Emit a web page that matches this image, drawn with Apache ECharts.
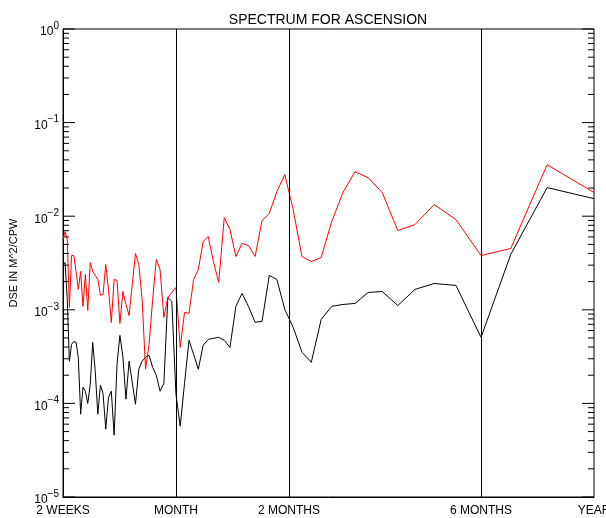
<!DOCTYPE html>
<html>
<head>
<meta charset="utf-8">
<script src="https://cdn.jsdelivr.net/npm/echarts@6/dist/echarts.min.js"></script>
<style>
  html, body { margin: 0; padding: 0; background: #fff; }
  #main { width: 606px; height: 518px; }
</style>
</head>
<body>
<div id="main"></div>
<script>
// period in weeks (x axis, log)
var periods = [2, 2.026, 2.053, 2.08, 2.108, 2.137, 2.167, 2.197, 2.229, 2.261,
    2.294, 2.328, 2.364, 2.4, 2.438, 2.476, 2.516, 2.557, 2.6, 2.644,
    2.69, 2.737, 2.786, 2.836, 2.889, 2.943, 3.0, 3.059, 3.12, 3.184,
    3.25, 3.319, 3.391, 3.467, 3.545, 3.628, 3.714, 3.805, 3.9, 4.0,
    4.105, 4.216, 4.333, 4.457, 4.588, 4.727, 4.875, 5.032, 5.2, 5.379,
    5.571, 5.778, 6.0, 6.24, 6.5, 6.783, 7.091, 7.429, 7.8, 8.211,
    8.667, 9.176, 9.75, 10.4, 11.14, 12.0, 13.0, 14.18, 15.6, 17.33,
    19.5, 22.29, 26.0, 31.2, 39.0, 52.0];

// red curve
var redDse = [0.00563, 0.00685, 0.00563, 0.00106, 0.00380, 0.00380, 0.00257, 0.00165, 0.00257, 0.00109,
    0.00238, 0.000986, 0.00320, 0.00257, 0.00233, 0.00211, 0.00143, 0.00146, 0.00305, 0.00165,
    0.000734, 0.00211, 0.00206, 0.000716, 0.00157, 0.00114, 0.000871, 0.00187, 0.00399, 0.00305,
    0.00129, 0.000232, 0.000428, 0.00129, 0.00345, 0.00270, 0.000830, 0.00135, 0.00153, 0.00173,
    0.000397, 0.000938, 0.000916, 0.00211, 0.00270, 0.00536, 0.00607, 0.00328, 0.00196, 0.00966,
    0.00720, 0.00371, 0.00511, 0.00486, 0.00371, 0.00897, 0.0107, 0.0183, 0.0278, 0.0118,
    0.00371, 0.00328, 0.00362, 0.00875, 0.0179, 0.0299, 0.0258, 0.0179, 0.00702, 0.00813,
    0.0133, 0.00920, 0.00380, 0.00452, 0.0355, 0.0179];

// black curve
var blackDse = [0.00305, 0.00320, 0.00129, 0.000282, 0.000428, 0.000460, 0.000449, 0.000311, 0.0000767, 0.000149,
    0.000135, 0.000100, 0.000160, 0.000449, 0.000220, 0.0000767, 0.000156, 0.000128, 0.0000531, 0.000116,
    0.000135, 0.0000458, 0.000262, 0.000533, 0.000311, 0.000111, 0.000282, 0.000168, 0.0000980, 0.000232,
    0.000282, 0.000311, 0.000327, 0.000243, 0.000200, 0.000135, 0.000164, 0.00135, 0.00123, 0.000125,
    0.0000571, 0.000164, 0.000472, 0.000334, 0.000232, 0.000417, 0.000483, 0.000496, 0.000508, 0.000472,
    0.000397, 0.00109, 0.00150, 0.00109, 0.000734, 0.000752, 0.00233, 0.00211, 0.00101, 0.000649,
    0.000352, 0.000275, 0.000790, 0.00109, 0.00114, 0.00117, 0.00153, 0.00157, 0.00111, 0.00165,
    0.00191, 0.00182, 0.000508, 0.00390, 0.0202, 0.0154];

var xTickPeriods = [2, 4, 8, 26, 52];
var xTickLabels = ['2 WEEKS', 'MONTH', '2 MONTHS', '6 MONTHS', 'YEAR'];
var markPeriods = [4, 8, 26];
var yDecades = [1e-5, 1e-4, 1e-3, 1e-2, 1e-1, 1];

// tick rows: [x on axis, y value, tick length]
var tickRows = [];
for (var d = 0; d < yDecades.length; d++) {
    tickRows.push([2, yDecades[d], 12]);
    if (d < yDecades.length - 1) {
        for (var m = 2; m <= 9; m++) {
            tickRows.push([2, m * yDecades[d], 6]);
        }
    }
}

function pairs(ys) {
    return periods.map(function (p, i) { return [p, ys[i]]; });
}

function xLabel(v) {
    var best = 0;
    for (var i = 1; i < xTickPeriods.length; i++) {
        if (Math.abs(Math.log(v / xTickPeriods[i])) < Math.abs(Math.log(v / xTickPeriods[best]))) best = i;
    }
    return xTickLabels[best];
}

function yLabel(v) {
    var e = Math.round(Math.log10(v));
    return '{b|10}{s|' + (e === 0 ? '0' : '\u2212' + (-e)) + '}';
}

// ticks on left and right frame
function renderTick(params, api) {
    var v = api.value(1);
    var len = api.value(2);
    var l = api.coord([xTickPeriods[0], v]);
    var r = api.coord([xTickPeriods[xTickPeriods.length - 1], v]);
    var st = { stroke: '#000', lineWidth: 1 };
    return {
        type: 'group',
        children: [
            { type: 'line', shape: { x1: l[0], y1: l[1], x2: l[0] + len, y2: l[1] }, style: st },
            { type: 'line', shape: { x1: r[0] - len, y1: r[1], x2: r[0], y2: r[1] }, style: st }
        ]
    };
}

var FONT = 'Liberation Sans';

var myChart = echarts.init(document.getElementById('main'), null, { renderer: 'canvas' });

var option = {
    animation: false,
    backgroundColor: '#fff',
    title: {
        text: 'SPECTRUM FOR ASCENSION',
        left: 323,
        top: 8,
        textAlign: 'center',
        textStyle: { fontFamily: FONT, fontSize: 14, fontWeight: 'normal', color: '#000' }
    },
    grid: {
        left: 63, right: 12, top: 29, bottom: 21,
        show: true, borderColor: '#000', borderWidth: 1,
        containLabel: false,
        outerBoundsMode: 'none'
    },
    xAxis: {
        type: 'log',
        logBase: 10,
        min: 2,
        max: 52,
        axisLine: { show: true, lineStyle: { color: '#000', width: 1 } },
        axisTick: { show: false },
        axisLabel: {
            customValues: xTickPeriods,
            formatter: xLabel,
            margin: 8,
            color: '#000',
            fontFamily: FONT,
            fontSize: 12
        },
        splitLine: { show: false }
    },
    yAxis: {
        type: 'log',
        logBase: 10,
        min: 1e-5,
        max: 1,
        name: 'DSE IN M^2/CPW',
        nameLocation: 'middle',
        nameGap: 44,
        nameTextStyle: { color: '#000', fontFamily: FONT, fontSize: 11 },
        axisLine: { show: true, lineStyle: { color: '#000', width: 1 } },
        axisTick: { show: false },
        axisLabel: {
            customValues: yDecades,
            margin: 4,
            formatter: yLabel,
            color: '#000',
            rich: {
                b: { fontFamily: FONT, fontSize: 12, color: '#000', padding: [6, 0, 0, 0] },
                s: { fontFamily: FONT, fontSize: 10, color: '#000', padding: [0, 0, 6, 0] }
            }
        },
        splitLine: { show: false }
    },
    series: [
        {
            name: 'ticks',
            type: 'custom',
            silent: true,
            data: tickRows,
            encode: { x: 0, y: 1 },
            renderItem: renderTick,
            clip: false,
            z: 1
        },
        {
            name: 'black',
            type: 'line',
            data: pairs(blackDse),
            symbol: 'none',
            lineStyle: { color: '#000', width: 1 },
            markLine: {
                silent: true,
                symbol: 'none',
                label: { show: false },
                lineStyle: { color: '#000', width: 1, type: 'solid' },
                data: markPeriods.map(function (p) { return { xAxis: p }; })
            }
        },
        {
            name: 'red',
            type: 'line',
            data: pairs(redDse),
            symbol: 'none',
            lineStyle: { color: '#ff0000', width: 1 }
        }
    ]
};

myChart.setOption(option);
</script>
</body>
</html>
